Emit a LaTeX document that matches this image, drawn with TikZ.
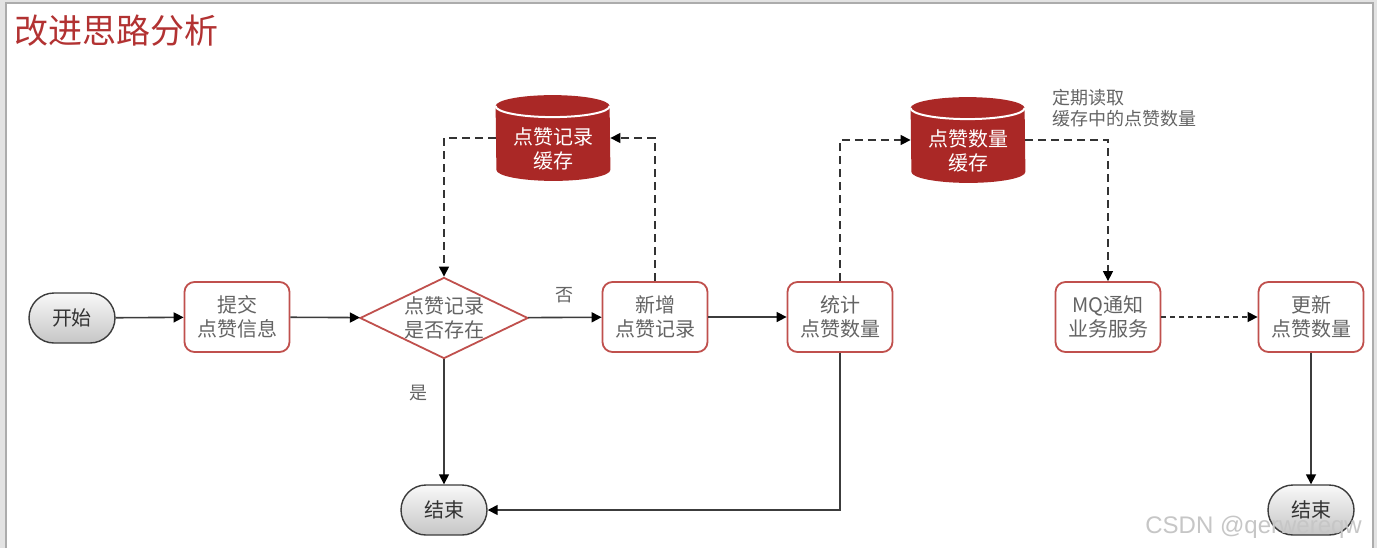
\documentclass[tikz,border=0pt]{standalone}
\usepackage{fontspec}
\setmainfont{Noto Sans CJK SC}
\newfontfamily\markfont{Liberation Sans}
\usetikzlibrary{arrows.meta,shapes.geometric,calc}
\definecolor{boxred}{RGB}{192,80,77}
\definecolor{cylred}{RGB}{170,40,38}
\definecolor{titlered}{RGB}{178,50,50}
\definecolor{txtgray}{RGB}{100,100,100}
\definecolor{linegray}{RGB}{60,60,60}

% draw a database drum behind an empty named node
\newcommand\drumbody[1]{%
  \fill[cylred] ([yshift=-5.5pt]#1.north west)
    arc[start angle=180,end angle=0,x radius=28.5pt,y radius=5.5pt]
    -- ([yshift=5.5pt]#1.south east)
    arc[start angle=0,end angle=-180,x radius=28.5pt,y radius=5.5pt] -- cycle;
  \draw[white,line width=1pt] ([yshift=-5.5pt]#1.north west)
    arc[start angle=180,end angle=360,x radius=28.5pt,y radius=5.5pt];
}

\tikzset{
  basefont/.style={font=\fontsize{10pt}{12pt}\selectfont},
  procbox/.style={rectangle, rounded corners=5pt, draw=boxred, line width=0.9pt,
    fill=white, minimum width=52.5pt, minimum height=35pt, inner sep=0pt,
    align=center, text=txtgray, basefont},
  terminal/.style={rectangle, rounded corners=12.5pt, draw=linegray, line width=0.7pt,
    top color=gray!5, bottom color=gray!45, minimum width=43pt, minimum height=25pt,
    inner sep=0pt, text=black!80, basefont},
  decision/.style={diamond, draw=boxred, line width=0.9pt, fill=white, aspect=2.07,
    minimum width=84pt, minimum height=40.5pt, inner sep=0pt, align=center,
    text=txtgray, basefont},
  drum/.style={rectangle, draw=none, minimum width=57pt, minimum height=42.5pt, inner sep=0pt},
  drumtext/.style={align=center, text=white, basefont, inner sep=0pt},
  tip/.style={-{Triangle[length=5pt,width=5pt,color=black]}},
  flow/.style={draw=linegray, line width=0.8pt, tip},
  dflow/.style={draw=black!80, line width=0.7pt, dash pattern=on 4pt off 2.5pt, tip},
  dflowfine/.style={draw=black!80, line width=0.7pt, dash pattern=on 2.5pt off 2pt, tip},
  note/.style={text=txtgray, font=\fontsize{9pt}{10.5pt}\selectfont, inner sep=0pt}
}

\begin{document}
\begin{tikzpicture}[x=0.5pt,y=-0.5pt]
  \useasboundingbox (0,0) rectangle (1377,548);
  % slide frame
  \fill[gray!22] (0,0) rectangle (1377,548);
  \fill[white] (6,3) rectangle (1373,548);
  \draw[gray!65, line width=0.6pt] (6,548) -- (6,3) -- (1373,3) -- (1373,548);

  % title
  \node[anchor=west, text=titlered, inner sep=0pt, font=\fontsize{17pt}{20pt}\selectfont]
    (title) at (14,31) {改进思路分析};

  % flow nodes
  \node[terminal] (start) at (72,318) {开始};
  \node[procbox] (submit) at (237,317) {提交\\点赞信息};
  \node[decision] (check) at (444,318) {点赞记录\\是否存在};
  \node[procbox] (new) at (655,317) {新增\\点赞记录};
  \node[procbox] (count) at (840,317) {统计\\点赞数量};
  \node[procbox] (mq) at (1108,317) {MQ通知\\业务服务};
  \node[procbox] (update) at (1311,317) {更新\\点赞数量};
  \node[terminal] (end1) at (444,510) {结束};
  \node[terminal] (end2) at (1311,510) {结束};

  % caches
  \node[drum] (cache1) at (553,138) {};
  \drumbody{cache1}
  \node[drumtext] (cache1t) at (553,149) {点赞记录\\缓存};
  \node[drum] (cache2) at (968,140) {};
  \drumbody{cache2}
  \node[drumtext] (cache2t) at (968,151) {点赞数量\\缓存};

  % note on the periodic read
  \node[note, anchor=north west, align=left] (readnote) at (1052,89)
    {定期读取\\缓存中的点赞数量};

  % solid connectors
  \draw[flow] (start) -- (submit);
  \draw[flow] (submit) -- (check);
  \draw[flow] (check) -- node[above=7pt, note, font=\fontsize{9pt}{10pt}\selectfont] (nolabel) {否} (new);
  \draw[flow] (check) -- node[pos=0.27, left=8pt, note, font=\fontsize{9pt}{10pt}\selectfont] (yeslabel) {是} (end1);
  \draw[flow] (new) -- (count);
  \draw[flow] (count.south) |- (end1.east);
  \draw[flow] (update) -- (end2);

  % dashed cache connectors
  \draw[dflow] (cache1.west) -| (check.north);
  \draw[dflow] (new.north) |- (cache1.east);
  \draw[dflow] (count.north) |- (cache2.west);
  \draw[dflow] (cache2.east) -| (mq.north);
  \draw[dflowfine] (mq) -- (update);

  % watermark
  \node[anchor=base west, inner sep=0pt, text=gray!45, font=\markfont\fontsize{12pt}{14pt}\selectfont]
    (mark) at (1145,533) {CSDN @qerwereqw};
\end{tikzpicture}
\end{document}
